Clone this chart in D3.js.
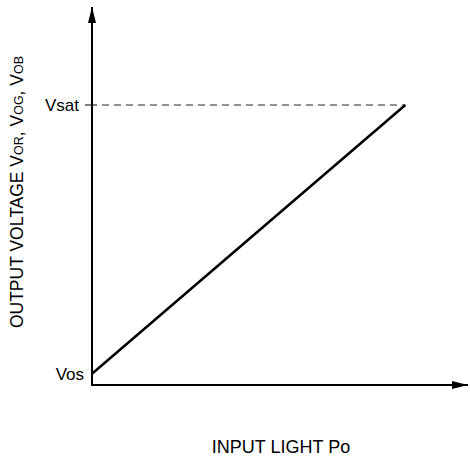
<!DOCTYPE html>
<html>
<head>
<meta charset="utf-8">
<script src="https://cdn.jsdelivr.net/npm/d3@7"></script>
<style>
  body { margin: 0; background: #fff; }
  text { font-family: "Liberation Sans", Arial, sans-serif; fill: #000; }
</style>
</head>
<body>
<div id="chart"></div>
<script>
// input light (relative) and output voltage (relative to Vsat)
const inputLight = [0, 1];
const outputVoltage = [0.04, 1];
const yTickLabels = ["Vos", "Vsat"];
const yTickValues = [0.04, 1];

const width = 470;
const height = 457;

const svg = d3.select("#chart").append("svg")
  .attr("width", width)
  .attr("height", height);

const x = d3.scaleLinear().domain([0, 1.2]).range([92, 468]);
const y = d3.scaleLinear().domain([0, 1.35]).range([385, 7]);

// arrow heads
const defs = svg.append("defs");
defs.append("marker")
  .attr("id", "arrow")
  .attr("viewBox", "0 0 16 8")
  .attr("refX", 16)
  .attr("refY", 4)
  .attr("markerWidth", 16)
  .attr("markerHeight", 8)
  .attr("markerUnits", "userSpaceOnUse")
  .attr("orient", "auto")
  .append("path")
  .attr("d", "M0,0 L16,4 L0,8 Z")
  .attr("fill", "#000");

// y axis
svg.append("line")
  .attr("x1", x(0)).attr("y1", y(0) + 1)
  .attr("x2", x(0)).attr("y2", y(1.35))
  .attr("stroke", "#000").attr("stroke-width", 2)
  .attr("marker-end", "url(#arrow)");

// x axis
svg.append("line")
  .attr("x1", x(0) - 1).attr("y1", y(0))
  .attr("x2", x(1.2)).attr("y2", y(0))
  .attr("stroke", "#000").attr("stroke-width", 2)
  .attr("marker-end", "url(#arrow)");

// Vsat tick + dashed level
svg.append("line")
  .attr("x1", x(0) - 7).attr("x2", x(0) + 5)
  .attr("y1", y(yTickValues[1])).attr("y2", y(yTickValues[1]))
  .attr("stroke", "#000").attr("stroke-width", 1);

svg.append("line")
  .attr("x1", x(0) + 10).attr("x2", x(inputLight[1]))
  .attr("y1", y(yTickValues[1])).attr("y2", y(yTickValues[1]))
  .attr("stroke", "#222").attr("stroke-width", 1)
  .attr("stroke-dasharray", "7,5");

// tick labels
svg.selectAll("text.ytick")
  .data(yTickLabels)
  .enter().append("text")
  .attr("class", "ytick")
  .attr("x", (d, i) => x(0) - (i == 1 ? 13 : 8))
  .attr("y", (d, i) => y(yTickValues[i]))
  .attr("dy", "0.35em")
  .attr("text-anchor", "end")
  .attr("font-size", 17)
  .text(d => d);

// response line
const line = d3.line()
  .x((d, i) => x(inputLight[i]))
  .y(d => y(d));

svg.append("path")
  .datum(outputVoltage)
  .attr("d", line)
  .attr("fill", "none")
  .attr("stroke", "#000")
  .attr("stroke-width", 2.5);

// axis titles
svg.append("text")
  .attr("x", 281)
  .attr("y", 453)
  .attr("text-anchor", "middle")
  .attr("font-size", 18)
  .text("INPUT LIGHT Po");

const yTitle = svg.append("text")
  .attr("transform", "translate(23,192) rotate(-90)")
  .attr("text-anchor", "middle")
  .attr("font-size", 17.5);

// small-cap style subscripts, same baseline
const parts = [["OUTPUT VOLTAGE V", false], ["OR", true], [", V", false], ["OG", true], [", V", false], ["OB", true]];
parts.forEach(p => {
  yTitle.append("tspan")
    .attr("font-size", p[1] ? 12.5 : 17.5)
    .text(p[0]);
});
</script>
</body>
</html>
